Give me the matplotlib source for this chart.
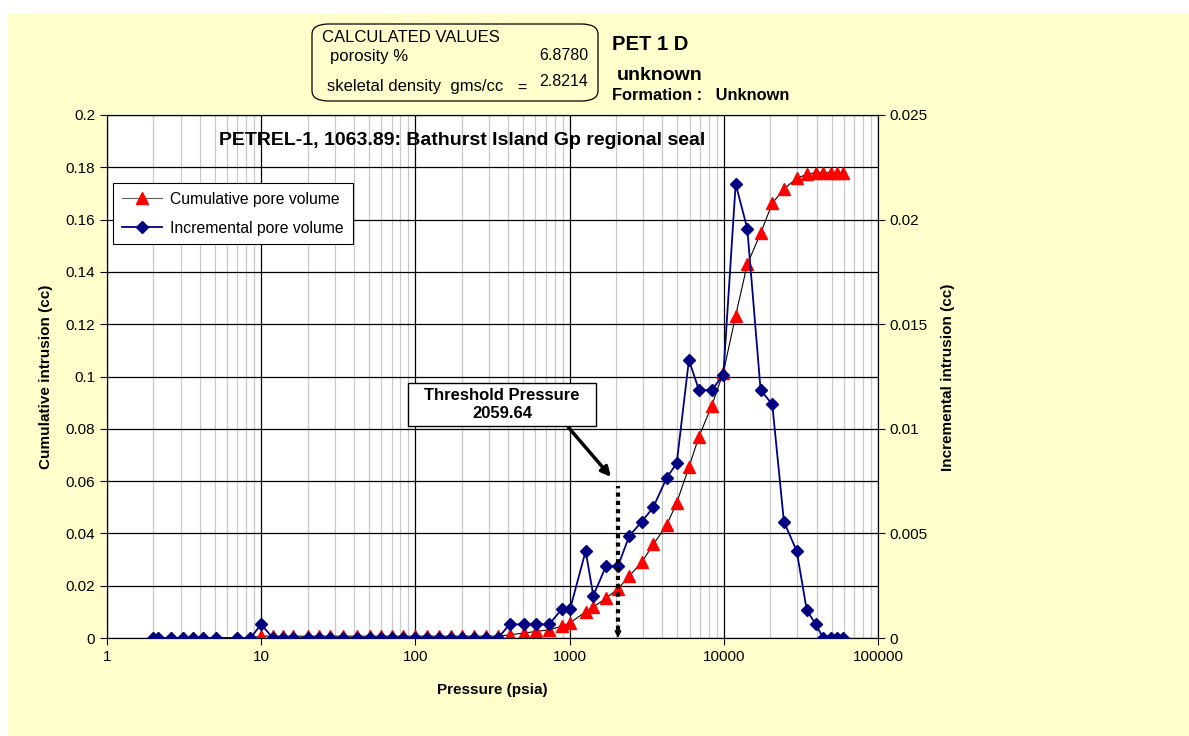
import matplotlib.pyplot as plt
from matplotlib.patches import FancyBboxPatch, Rectangle
from matplotlib.ticker import FixedLocator, LogLocator, FuncFormatter, NullFormatter

plt.rcParams['font.family'] = ['Liberation Sans', 'DejaVu Sans']

# Mercury injection data, PETREL-1 1063.89 m
pressure = [2.0, 2.15, 2.6, 3.1, 3.6, 4.2, 5.1, 7.0, 8.5, 10.0,
            11.9, 13.9, 16.0, 20.0, 23.7, 27.9, 34.0, 41.5, 50.8, 59.4,
            70.3, 83.2, 100, 119.5, 142, 170, 201, 239, 287, 344,
            408, 506, 606, 735, 889, 1006, 1271, 1425, 1722, 2059.64,
            2438, 2937, 3490, 4264, 4948, 5940, 6900, 8345, 9930, 11940,
            14200, 17330, 20620, 24540, 29700, 34500, 39450, 44200, 49300, 54400,
            59600]

cumulative = [0, 0, 0, 0, 0, 0, 0, 0, 0, 0.0007,
              0.0007, 0.0007, 0.0007, 0.0007, 0.0007, 0.0007, 0.0007, 0.0007, 0.0007, 0.0007,
              0.0007, 0.0007, 0.0007, 0.0007, 0.0007, 0.0007, 0.0007, 0.0007, 0.0007, 0.0007,
              0.0012, 0.0019, 0.0025, 0.0031, 0.0045, 0.0058, 0.0100, 0.0118, 0.0152, 0.0188,
              0.0237, 0.0290, 0.0358, 0.0432, 0.0517, 0.0653, 0.0770, 0.0888, 0.1015, 0.1233,
              0.1429, 0.1548, 0.1662, 0.1717, 0.1758, 0.1773, 0.1780, 0.1780, 0.1780, 0.1780,
              0.1780]

incremental = [0, 0, 0, 0, 0, 0, 0, 0, 0, 0.00065,
               0, 0, 0, 0, 0, 0, 0, 0, 0, 0,
               0, 0, 0, 0, 0, 0, 0, 0, 0, 0,
               0.00065, 0.00065, 0.00065, 0.00065, 0.00137, 0.00137, 0.00416, 0.00202, 0.00344, 0.00344,
               0.00488, 0.00556, 0.00625, 0.00766, 0.00835, 0.01329, 0.01185, 0.01185, 0.01257, 0.0217,
               0.01957, 0.01185, 0.01117, 0.00556, 0.00416, 0.00134, 0.00065, 0, 0, 0,
               0]

threshold = 2059.64

W, H = 1189, 736
fig = plt.figure(figsize=(W / 100, H / 100), dpi=100, facecolor='white')

# pale yellow chart area
fig.patches.append(Rectangle((8 / W, 0), 1, 1 - 13 / H, transform=fig.transFigure,
                             facecolor='#FFFFCC', edgecolor='none', zorder=-5))

ax = fig.add_axes([107 / W, 1 - 638 / H, 771 / W, 523 / H])
ax.set_facecolor('white')
ax.set_xscale('log')
ax.set_xlim(1, 100000)
ax.set_ylim(0, 0.2)

# grid: black decades and horizontals, grey minor log lines
ax.xaxis.set_major_locator(FixedLocator([1, 10, 100, 1000, 10000, 100000]))
ax.xaxis.set_minor_locator(LogLocator(base=10, subs=range(2, 10)))
ax.xaxis.set_minor_formatter(NullFormatter())
ax.xaxis.set_major_formatter(FuncFormatter(lambda v, p: '%d' % v))
ax.set_yticks([i * 0.02 for i in range(11)])
ax.yaxis.set_major_formatter(FuncFormatter(lambda v, p: '%g' % round(v, 3)))
ax.grid(which='minor', axis='x', color='#C8C8C8', lw=0.9)
ax.grid(which='major', axis='x', color='black', lw=0.9)
ax.grid(which='major', axis='y', color='black', lw=0.9)
ax.set_axisbelow(True)
ax.tick_params(which='major', direction='out', length=5, width=0.8, labelsize=11, color='black')
ax.tick_params(which='minor', length=0)
for s in ax.spines.values():
    s.set_color('black')
    s.set_linewidth(0.8)

ax.plot(pressure, cumulative, color='black', lw=0.8, marker='^', ms=9,
        mfc='red', mec='red', label='Cumulative pore volume', zorder=3)

ax2 = ax.twinx()
ax2.set_ylim(0, 0.025)
ax2.set_yticks([0, 0.005, 0.01, 0.015, 0.02, 0.025])
ax2.yaxis.set_major_formatter(FuncFormatter(lambda v, p: '%g' % round(v, 4)))
ax2.tick_params(direction='out', length=5, width=0.8, labelsize=11)
ax2.plot(pressure, incremental, color='#000080', lw=1.3, marker='D', ms=6,
         mfc='#000080', mec='#000080', label='Incremental pore volume', zorder=4)

# threshold pressure: dotted drop line with arrowhead, plus callout box
ax2.vlines(threshold, 0.0004, 0.00726, colors='black', lw=3, linestyles=(0, (1, 1)), zorder=5)
ax2.annotate('', xy=(threshold, 0.0), xytext=(threshold, 0.0006),
             arrowprops=dict(arrowstyle='-|>', color='black', lw=1,
                             mutation_scale=10, shrinkA=0, shrinkB=0), zorder=5)
ax2.annotate('', xy=(1855, 0.0077), xytext=(977, 0.01009),
             arrowprops=dict(arrowstyle='-|>', color='black', lw=2.5,
                             mutation_scale=14, shrinkA=0, shrinkB=0), zorder=5)
ax2.add_patch(Rectangle((408 / W, 1 - 426 / H), 188 / W, 43 / H, transform=fig.transFigure,
                        fc='white', ec='black', lw=1.0, zorder=6, clip_on=False))
ax2.text(502 / W, 1 - 404.5 / H, 'Threshold Pressure\n2059.64', transform=fig.transFigure,
         ha='center', va='center', fontsize=12, fontweight='bold', linespacing=1.3, zorder=7)

ax.text(0.46, 0.952, 'PETREL-1, 1063.89: Bathurst Island Gp regional seal',
        transform=ax.transAxes, ha='center', va='center', fontsize=14, fontweight='bold')

h1, l1 = ax.get_legend_handles_labels()
h2, l2 = ax2.get_legend_handles_labels()
leg = ax2.legend(h1 + h2, l1 + l2, loc='upper left', bbox_to_anchor=(0.0078, 0.870),
                 borderaxespad=0, fontsize=11.3, fancybox=False, framealpha=1, edgecolor='black',
                 handlelength=2.6, borderpad=0.55, labelspacing=0.9, handletextpad=0.5)
leg.get_frame().set_linewidth(0.8)
leg.get_lines()[0].set_color('#606060')

# axis titles
fig.text(492 / W, 1 - 690 / H, 'Pressure (psia)', ha='center', va='center',
         fontsize=11, fontweight='bold')
fig.text(46 / W, 1 - 377 / H, 'Cumulative intrusion (cc)', ha='center', va='center',
         rotation=90, fontsize=11, fontweight='bold')
fig.text(948 / W, 1 - 377 / H, 'Incremental intrusion (cc)', ha='center', va='center',
         rotation=90, fontsize=11, fontweight='bold')

# calculated values box
fig.patches.append(FancyBboxPatch((312 / W, 1 - 101 / H), 286 / W, 77 / H,
                                  boxstyle='round,pad=0,rounding_size=0.014',
                                  transform=fig.transFigure, fc='none', ec='black', lw=0.9))
fig.text(322 / W, 1 - 38 / H, 'CALCULATED VALUES', ha='left', va='center', fontsize=12)
fig.text(330 / W, 1 - 57 / H, 'porosity %', ha='left', va='center', fontsize=12)
fig.text(588 / W, 1 - 56 / H, '6.8780', ha='right', va='center', fontsize=11.5)
fig.text(327 / W, 1 - 87 / H, 'skeletal density  gms/cc', ha='left', va='center', fontsize=12)
fig.text(522 / W, 1 - 88 / H, '=', ha='center', va='center', fontsize=11.5)
fig.text(588 / W, 1 - 81 / H, '2.8214', ha='right', va='center', fontsize=11.5)
fig.text(612 / W, 1 - 44 / H, 'PET 1 D', ha='left', va='center', fontsize=14.5, fontweight='bold')
fig.text(617 / W, 1 - 75 / H, 'unknown', ha='left', va='center', fontsize=14, fontweight='bold')
fig.text(612 / W, 1 - 95 / H, 'Formation :   Unknown', ha='left', va='center',
         fontsize=11.8, fontweight='bold')

fig.savefig('out.png', dpi=100, facecolor=fig.get_facecolor())
